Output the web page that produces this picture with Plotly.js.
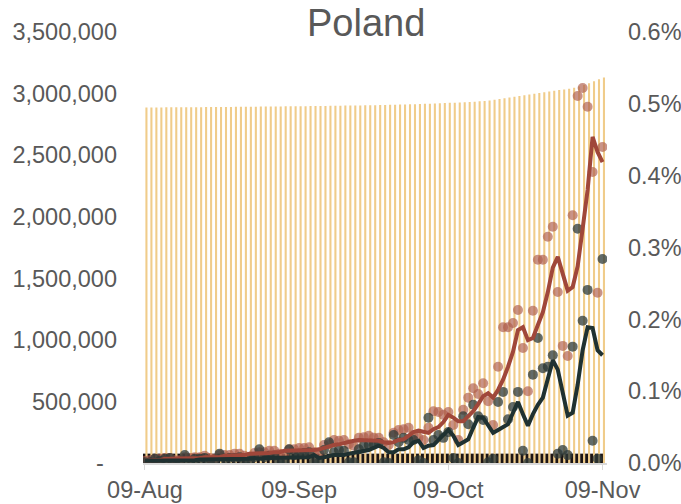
<!DOCTYPE html>
<html>
<head>
<meta charset="utf-8">
<script src="https://cdn.plot.ly/plotly-3.0.1.min.js"></script>
<style>
  html, body { margin: 0; padding: 0; background: #fff; }
  #chart { width: 681px; height: 504px; }
</style>
</head>
<body>
<div id="chart"></div>
<script>
// Poland - daily chart, 09-Aug to 09-Nov
const startDate = '2020-08-09';
const dayCount = 93;

// left axis: bars
const yellowBars = [
  2887000, 2887200, 2887500, 2887700, 2888000, 2888300, 2888500, 2888800, 2889000, 2889300,
  2889600, 2889900, 2890200, 2890500, 2890800, 2891100, 2891400, 2891800, 2892200, 2892600,
  2893000, 2893400, 2893800, 2894200, 2894600, 2895000, 2895400, 2895800, 2896200, 2896600,
  2897000, 2897500, 2898000, 2898500, 2899000, 2899500, 2900000, 2900500, 2901000, 2901600,
  2902200, 2902800, 2903400, 2904000, 2904700, 2905400, 2906100, 2906800, 2907600, 2908500,
  2909500, 2910500, 2911600, 2912800, 2914000, 2915300, 2916700, 2918100, 2919600, 2921200,
  2922800, 2924500, 2926300, 2928200, 2930200, 2932300, 2934500, 2936800, 2940000, 2944000,
  2950000, 2956000, 2962000, 2968000, 2974000, 2980000, 2986000, 2992000, 2998000, 3004000,
  3010000, 3016000, 3022000, 3028000, 3034000, 3040000, 3047000, 3058000, 3070000, 3084000,
  3100000, 3116000, 3131000
];
const blackBars = [
  76000, 76000, 76000, 76000, 76000, 76000, 76000, 76000, 76000, 76000,
  76000, 76000, 76000, 76000, 76000, 76000, 76000, 76000, 76000, 76000,
  76000, 76000, 76000, 76000, 76000, 76000, 76000, 76000, 76000, 76000,
  76000, 76000, 76000, 76000, 76000, 76000, 76000, 76000, 76000, 76000,
  76000, 76000, 76000, 76000, 76000, 76000, 76000, 76000, 76000, 76000,
  76000, 76000, 76000, 76000, 76000, 76000, 76000, 76000, 76000, 76000,
  76000, 76000, 76000, 76000, 76000, 76000, 76000, 76000, 76000, 76000,
  76000, 76000, 76000, 76000, 76000, 76000, 76000, 76000, 76000, 76000,
  76000, 76000, 76000, 76000, 76000, 76000, 76000, 76000, 76000, 76000,
  76000, 76000, 76000
];

// right axis (percent)
const redDots = [
  0.003, 0.004, 0.006, 0.006, 0.007, 0.007, 0.004, 0.004, 0.008, 0.007,
  0.008, 0.008, 0.010, 0.007, 0.006, 0.011, 0.011, 0.011, 0.013, 0.013,
  0.010, 0.008, 0.014, 0.015, 0.015, 0.017, 0.017, 0.013, 0.011, 0.019,
  0.019, 0.021, 0.021, 0.022, 0.015, 0.014, 0.025, 0.026, 0.032, 0.031,
  0.032, 0.026, 0.024, 0.035, 0.036, 0.038, 0.035, 0.035, 0.029, 0.025,
  0.042, 0.046, 0.047, 0.049, 0.039, 0.035, 0.032, 0.049, 0.072, 0.071,
  0.067, 0.071, 0.053, 0.032, 0.074, 0.091, 0.104, 0.096, 0.111, 0.086,
  0.053, 0.134, 0.189, 0.189, 0.195, 0.213, 0.160, 0.100, 0.212, 0.283,
  0.283, 0.315, 0.329, 0.238, 0.163, 0.149, 0.345, 0.511, 0.522, 0.496,
  0.405, 0.237, 0.440
];
const redLine = [
  0.003, 0.004, 0.004, 0.004, 0.006, 0.006, 0.006, 0.006, 0.007, 0.007,
  0.007, 0.007, 0.008, 0.008, 0.008, 0.008, 0.010, 0.010, 0.011, 0.011,
  0.011, 0.013, 0.013, 0.014, 0.014, 0.014, 0.015, 0.015, 0.017, 0.017,
  0.018, 0.018, 0.018, 0.018, 0.018, 0.019, 0.021, 0.024, 0.025, 0.026,
  0.028, 0.029, 0.031, 0.032, 0.032, 0.032, 0.032, 0.031, 0.029, 0.028,
  0.029, 0.032, 0.033, 0.038, 0.043, 0.045, 0.043, 0.042, 0.047, 0.050,
  0.057, 0.067, 0.063, 0.058, 0.058, 0.065, 0.072, 0.082, 0.093, 0.097,
  0.091, 0.102, 0.116, 0.134, 0.155, 0.185, 0.189, 0.171, 0.174, 0.192,
  0.210, 0.238, 0.272, 0.287, 0.262, 0.240, 0.245, 0.274, 0.326, 0.380,
  0.454, 0.433, 0.419
];
const darkDots = [
  0.001, 0.001, 0.006, 0.003, 0.006, 0.007, 0.001, 0.001, 0.011, 0.003,
  0.006, 0.006, 0.007, 0.001, 0.001, 0.013, 0.006, 0.007, 0.007, 0.008,
  0.001, 0.003, 0.008, 0.019, 0.008, 0.010, 0.010, 0.001, 0.001, 0.019,
  0.011, 0.013, 0.014, 0.015, 0.001, 0.001, 0.018, 0.029, 0.015, 0.018,
  0.017, 0.001, 0.001, 0.019, 0.024, 0.025, 0.026, 0.028, 0.001, 0.000,
  0.039, 0.029, 0.035, 0.032, 0.032, 0.004, 0.000, 0.063, 0.032, 0.039,
  0.035, 0.043, 0.007, 0.000, 0.065, 0.054, 0.081, 0.065, 0.060, 0.001,
  0.006, 0.085, 0.099, 0.061, 0.078, 0.099, 0.017, 0.000, 0.123, 0.174,
  0.132, 0.134, 0.150, 0.013, 0.018, 0.011, 0.162, 0.326, 0.198, 0.241,
  0.031, 0.006, 0.284
];
const darkLine = [
  0.003, 0.003, 0.003, 0.004, 0.003, 0.004, 0.004, 0.004, 0.004, 0.004,
  0.004, 0.005, 0.005, 0.005, 0.005, 0.006, 0.005, 0.006, 0.006, 0.006,
  0.006, 0.006, 0.007, 0.006, 0.007, 0.007, 0.007, 0.008, 0.007, 0.007,
  0.007, 0.007, 0.007, 0.008, 0.011, 0.007, 0.008, 0.010, 0.011, 0.011,
  0.011, 0.013, 0.014, 0.015, 0.017, 0.018, 0.021, 0.024, 0.021, 0.015,
  0.015, 0.019, 0.019, 0.022, 0.029, 0.031, 0.021, 0.024, 0.025, 0.032,
  0.039, 0.046, 0.038, 0.025, 0.029, 0.033, 0.049, 0.064, 0.063, 0.052,
  0.042, 0.046, 0.050, 0.054, 0.070, 0.085, 0.068, 0.052, 0.068, 0.081,
  0.091, 0.116, 0.143, 0.130, 0.095, 0.066, 0.070, 0.109, 0.157, 0.189,
  0.188, 0.157, 0.150
];

// tick labels
const xTickVals = ['2020-08-09', '2020-09-09', '2020-10-09', '2020-11-09'];
const xTickText = ['09-Aug', '09-Sep', '09-Oct', '09-Nov'];
const yTickVals = [0, 500000, 1000000, 1500000, 2000000, 2500000, 3000000, 3500000];
const yTickText = ['-\u00a0\u00a0', '500,000', '1,000,000', '1,500,000', '2,000,000', '2,500,000', '3,000,000', '3,500,000'];
const y2TickVals = [0, 0.1, 0.2, 0.3, 0.4, 0.5, 0.6];
const y2TickText = ['0.0%', '0.1%', '0.2%', '0.3%', '0.4%', '0.5%', '0.6%'];

// consecutive days
const days = [];
const t0 = new Date(startDate + 'T00:00:00Z').getTime();
for (let i = 0; i < dayCount; i++) {
    days.push(new Date(t0 + i * 86400000).toISOString().slice(0, 10));
}

const DAY = 86400000;
const textColor = '#595959';
const font = { family: 'Liberation Sans, Arial, sans-serif', size: 23.5, color: textColor };

const traces = [
    // black strip sits behind the thin yellow bars
    { type: 'bar', x: days, y: blackBars, width: DAY, offset: -DAY / 2,
      marker: { color: '#1c1515', line: { width: 0 } }, hoverinfo: 'skip' },
    { type: 'bar', x: days, y: yellowBars, width: DAY * 0.42, offset: DAY * 0.08,
      marker: { color: 'rgb(240,204,138)', line: { width: 0 } }, hoverinfo: 'skip' },
    { type: 'scatter', mode: 'markers', x: days, y: redDots, yaxis: 'y2',
      marker: { size: 10, color: 'rgba(176,96,80,0.68)' } },
    { type: 'scatter', mode: 'markers', x: days, y: darkDots, yaxis: 'y2',
      marker: { size: 10, color: 'rgba(45,58,56,0.75)' } },
    { type: 'scatter', mode: 'lines', x: days, y: redLine, yaxis: 'y2',
      line: { color: '#a0473a', width: 4 } },
    { type: 'scatter', mode: 'lines', x: days, y: darkLine, yaxis: 'y2',
      line: { color: '#1f3131', width: 4 } }
];

const layout = {
    width: 681,
    height: 504,
    margin: { l: 143, r: 74, t: 32, b: 41 },
    paper_bgcolor: '#ffffff',
    plot_bgcolor: '#ffffff',
    showlegend: false,
    barmode: 'overlay',
    font: font,
    title: {
        text: 'Poland',
        font: { family: font.family, size: 38, color: textColor },
        xref: 'paper', x: 0.481, xanchor: 'center',
        yref: 'container', y: 0.954, yanchor: 'middle'
    },
    xaxis: {
        type: 'date',
        range: ['2020-08-08 14:24', '2020-11-09 21:36'],
        tickvals: xTickVals,
        ticktext: xTickText,
        ticks: 'outside',
        ticklen: 5,
        tickcolor: '#d9d9d9',
        showline: true,
        linecolor: '#d9d9d9',
        linewidth: 1.5,
        showgrid: false,
        zeroline: false,
        tickfont: font
    },
    yaxis: {
        range: [0, 3500000],
        tickvals: yTickVals,
        ticktext: yTickText,
        showgrid: false,
        zeroline: false,
        showline: false,
        ticks: '',
        ticklabelstandoff: 25,
        tickfont: font
    },
    yaxis2: {
        overlaying: 'y',
        side: 'right',
        range: [0, 0.6],
        tickvals: y2TickVals,
        ticktext: y2TickText,
        showgrid: false,
        zeroline: false,
        showline: false,
        ticks: '',
        ticklabelstandoff: 20,
        tickfont: font
    }
};

Plotly.newPlot('chart', traces, layout, { displayModeBar: false, staticPlot: true });
</script>
</body>
</html>
